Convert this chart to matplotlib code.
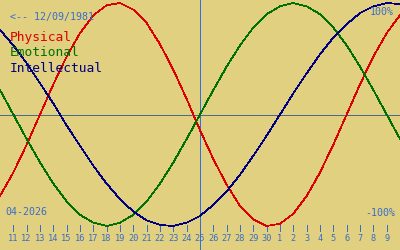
import matplotlib
matplotlib.use("Agg")
import matplotlib.pyplot as plt
from matplotlib.transforms import blended_transform_factory

# ---- data ----
BIRTH_LABEL = "<-- 12/09/1981"
MONTH_LABEL = "04-2026"
SERIES_NAMES = ["Physical", "Emotional", "Intellectual"]
DAY_LABELS = [str(d) for d in range(11, 31)] + [str(d) for d in range(1, 10)]
TODAY_INDEX = 14  # the 25th
# daily index, from one day before the first label to one day after the last
DAY_INDEX = list(range(-1, 31))
PHYSICAL = [-0.73, -0.52, -0.27, 0.00, 0.27, 0.52, 0.73, 0.89, 0.98, 1.00,
            0.94, 0.82, 0.63, 0.40, 0.14, -0.14, -0.40, -0.63, -0.82, -0.94,
            -1.00, -0.98, -0.89, -0.73, -0.52, -0.27, 0.00, 0.27, 0.52, 0.73,
            0.89, 0.98]
EMOTIONAL = [0.22, 0.00, -0.22, -0.43, -0.62, -0.78, -0.90, -0.97, -1.00, -0.97,
             -0.90, -0.78, -0.62, -0.43, -0.22, 0.00, 0.22, 0.43, 0.62, 0.78,
             0.90, 0.97, 1.00, 0.97, 0.90, 0.78, 0.62, 0.43, 0.22, 0.00,
             -0.22, -0.43]
INTELLECTUAL = [0.76, 0.62, 0.46, 0.28, 0.10, -0.10, -0.28, -0.46, -0.62, -0.76,
                -0.87, -0.95, -0.99, -1.00, -0.97, -0.91, -0.81, -0.69, -0.54, -0.37,
                -0.19, 0.00, 0.19, 0.37, 0.54, 0.69, 0.81, 0.91, 0.97, 1.00,
                0.99, 0.95]

# ---- styling ----
W, H = 400, 250
BG = "#e0d080"
BLUE_TXT = "#3a6cc8"
COLORS = ["#dd0000", "#007000", "#000080"]
MONO = ["DejaVu Sans Mono"]
LW = 0.55

fig = plt.figure(figsize=(W / 100, H / 100), dpi=100, facecolor=BG)
ax = fig.add_axes([0, 0, 1, 1])
ax.set_facecolor(BG)
for s in ax.spines.values():
    s.set_visible(False)
ax.set_xticks([])
ax.set_yticks([])

# x: one day = 400/30 px, first label at 13.3 px
ax.set_xlim(-1, 29)
center_px, amp_px = 114.5, 111.5
ax.set_ylim((center_px - H) / amp_px, center_px / amp_px)

ax.axhline(0, color="#4a6a8a", lw=LW, antialiased=False, zorder=1)
ax.axvline(TODAY_INDEX, color="#2f6fe0", lw=LW, antialiased=False, zorder=1)

# day ticks and labels
tick_lo = (H - 230.5) / H
tick_hi = (H - 224.5) / H
trans = blended_transform_factory(ax.transData, ax.transAxes)
for i, lab in enumerate(DAY_LABELS):
    ax.axvline(i, ymin=tick_lo, ymax=tick_hi, color=BLUE_TXT, lw=LW,
               antialiased=False, zorder=1)
    ax.text(i, (H - 238.5) / H, lab, transform=trans, ha="center", va="center",
            fontsize=6.2, color=BLUE_TXT, family=MONO)

for vals, col in zip([PHYSICAL, EMOTIONAL, INTELLECTUAL], COLORS):
    ax.plot(DAY_INDEX, vals, color=col, lw=LW, antialiased=False, zorder=3)

def px(x, y):
    return x / W, 1 - y / H

fig.text(*px(10, 17), BIRTH_LABEL, ha="left", va="center", fontsize=7.2,
         color=BLUE_TXT, family=MONO)
for k, (name, col) in enumerate(zip(SERIES_NAMES, COLORS)):
    fig.text(*px(10, 38 + 15 * k), name, ha="left", va="center", fontsize=9.3,
             color=col, family=MONO)
fig.text(*px(5, 212), MONTH_LABEL, ha="left", va="center", fontsize=7.2,
         color=BLUE_TXT, family=MONO)
fig.text(*px(394, 12), "100%", ha="right", va="center", fontsize=7.2,
         color=BLUE_TXT, family=MONO)
fig.text(*px(395, 213), "-100%", ha="right", va="center", fontsize=7.2,
         color=BLUE_TXT, family=MONO)

fig.savefig("out.png", dpi=100, facecolor=BG)
